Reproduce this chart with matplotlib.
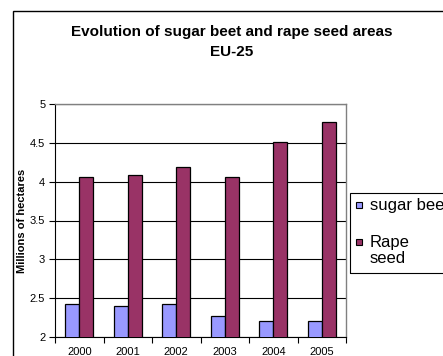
import matplotlib.pyplot as plt
from matplotlib.patches import Rectangle
import numpy as np

plt.rcParams['font.family'] = ['Liberation Sans', 'DejaVu Sans']

years = ['2000', '2001', '2002', '2003', '2004', '2005']
sugar_beet = [2.43, 2.40, 2.42, 2.27, 2.21, 2.21]
rape_seed = [4.06, 4.08, 4.19, 4.06, 4.51, 4.77]
yticks = [2, 2.5, 3, 3.5, 4, 4.5, 5]
ytick_labels = ['2', '2.5', '3', '3.5', '4', '4.5', '5']
series_names = ['sugar beet', 'Rape\nseed']
series_colors = ['#9999FF', '#993366']

W, H = 443, 356
fig = plt.figure(figsize=(W / 100, H / 100), dpi=100)


def px(x, y):
    # pixel position from top-left -> figure fraction
    return x / W, 1 - y / H


# chart area frame, running off the right and bottom edges
fig.patches.append(Rectangle((12.5 / W, -0.1), 1.2, 1.1 - 11.5 / H,
                             transform=fig.transFigure, fill=False,
                             edgecolor='black', linewidth=1.0))

ax = fig.add_axes([55 / W, 1 - 337 / H, 291 / W, 233 / H])

x = np.arange(len(years))
bw = 1 / 3.5
ax.bar(x - bw / 2, sugar_beet, bw, color=series_colors[0], edgecolor='black',
       linewidth=0.9, zorder=3)
ax.bar(x + bw / 2, rape_seed, bw, color=series_colors[1], edgecolor='black',
       linewidth=0.9, zorder=3)

ax.set_xlim(-0.5, len(years) - 0.5)
ax.set_ylim(2, 5)
ax.set_yticks(yticks)
ax.set_yticklabels(ytick_labels, fontsize=8)
ax.yaxis.grid(True, color='black', linewidth=0.8, zorder=0)

# category boundaries as ticks, year labels in between
ax.set_xticks(np.arange(len(years) + 1) - 0.5)
ax.set_xticklabels([''] * (len(years) + 1))
ax.set_xticks(x, minor=True)
ax.set_xticklabels(years, minor=True, fontsize=8)
ax.tick_params(axis='x', which='minor', length=0, pad=7)
ax.tick_params(axis='x', which='major', length=4, width=0.8)
ax.tick_params(axis='y', length=4, width=0.8, pad=3)

for side in ['top', 'right']:
    ax.spines[side].set_color('#808080')
    ax.spines[side].set_linewidth(1.0)
for side in ['left', 'bottom']:
    ax.spines[side].set_color('black')
    ax.spines[side].set_linewidth(0.8)

ax.set_ylabel('Millions of hectares', fontsize=8, fontweight='bold')
ax.yaxis.label.set_verticalalignment('center')
ax.yaxis.set_label_coords((22 - 55) / 291, 0.5)

fig.text(*px(232, 32), 'Evolution of sugar beet and rape seed areas',
         ha='center', va='center', fontsize=11, fontweight='bold')
fig.text(*px(232, 51.5), 'EU-25',
         ha='center', va='center', fontsize=11, fontweight='bold')

# legend box, cut by the right edge
lx, ly = px(350, 272.7)
fig.patches.append(Rectangle((lx, ly), 0.5, (272.7 - 193) / H,
                             transform=fig.transFigure, fill=False,
                             edgecolor='black', linewidth=0.8))
for name, color, yc in zip(series_names, series_colors, [205, 242]):
    hx, hy = px(355.7, yc + 3.3)
    fig.patches.append(Rectangle((hx, hy), 6.6 / W, 6.6 / H,
                                 transform=fig.transFigure, facecolor=color,
                                 edgecolor='black', linewidth=0.8))
    fig.text(*px(370, yc - 7), name, ha='left', va='top', fontsize=12,
             linespacing=1.05)

fig.savefig('out.png', dpi=100)
